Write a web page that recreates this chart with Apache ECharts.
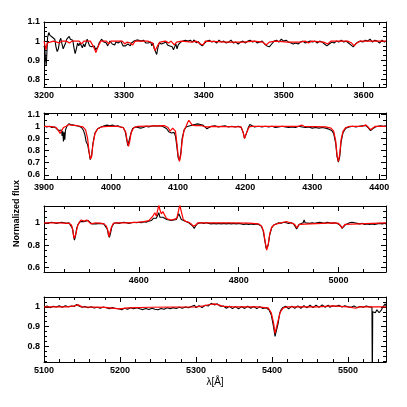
<!DOCTYPE html>
<html>
<head>
<meta charset="utf-8">
<script src="https://cdn.jsdelivr.net/npm/echarts@6/dist/echarts.min.js"></script>
<style>
html, body { margin: 0; padding: 0; background: #fff; }
#chart { width: 407px; height: 407px; }
</style>
</head>
<body>
<div id="chart"></div>
<script>
// observed spectrum (black) and model (red), one pair per panel, [lambda, flux]
const obs1 = [
  [3200,0.975],[3201,0.96],[3202,0.90],[3202.8,0.87],[3203.5,0.93],[3204.5,1.02],[3206,1.045],[3207.5,1.03],[3209,1.04],[3210.5,1.02],
  [3212,1.03],[3213.5,1.01],[3215,0.97],[3216.5,0.945],[3218,0.96],[3219.5,1.0],[3221,1.015],[3222.5,0.985],[3224,0.96],[3225.5,0.97],
  [3227,0.99],[3228.5,1.01],[3230,1.02],[3231.5,1.025],[3233,1.01],[3234.5,1.02],[3236,1.005],[3237.5,0.965],[3239,0.935],[3240.5,0.96],
  [3242,0.99],[3243.5,0.975],[3245,0.99],[3246.5,1.0],[3248,0.965],[3249.5,0.985],[3251,0.97],[3252.5,0.99],[3254,1.01],[3255.5,1.0],
  [3257,0.975],[3258.5,0.985],[3260,0.97],[3261.5,0.96],[3263,0.975],[3264.5,0.955],[3266,0.945],[3267.5,0.97],[3269,0.99],[3270.5,1.0],
  [3272,1.01],[3273.5,1.005],[3275,0.995],[3276.5,1.0],[3278,0.99],[3279.5,0.975],[3281,0.985],[3282.5,1.0],[3284,0.995],[3285.5,0.985],
  [3287,0.99],[3288.5,0.98],[3290,0.995],[3291.5,1.0],[3293,0.99],[3294.5,0.985],[3296,1.0],[3297.5,0.99],[3299,0.975],[3300.5,0.965],
  [3302,0.975],[3303.5,0.97],[3305,0.985],[3306.5,0.99],[3308,0.975],[3309.5,0.99],[3311,0.985],[3312.5,1.0],[3314,1.01],[3315.5,1.005],
  [3317,1.015],[3318.5,1.005],[3320,1.01],[3321.5,1.0],[3323,1.01],[3324.5,1.005],[3326,1.0],[3327.5,0.99],[3329,1.0],[3330.5,0.99],
  [3332,0.98],[3333.5,0.995],[3335,0.975],[3336.5,0.99],[3338,0.96],[3339.5,0.945],[3341,0.93],[3342.5,0.965],[3344,0.99],[3345.5,1.0],
  [3347,0.985],[3348.5,0.975],[3350,0.99],[3351.5,0.985],[3353,0.995],[3354.5,0.98],[3356,0.99],[3357.5,0.975],[3359,0.985],[3360.5,0.97],
  [3362,0.955],[3363.5,0.97],[3365,0.985],[3366.5,0.96],[3368,0.98],[3369.5,0.99],[3371,0.995],[3372.5,0.985],[3374,1.0],[3375.5,0.99],
  [3377,1.005],[3378.5,0.995],[3380,1.0],[3381.5,0.99],[3383,1.005],[3384.5,0.997],[3386,0.995],[3387.5,1.006],[3389,1.0],[3390.5,0.992],
  [3392,0.99],[3393.5,0.996],[3395,0.985],[3396.5,0.98],[3398,0.975],[3399.5,0.985],[3401,0.99],[3402.5,0.998],[3404,1.0],[3405.5,1.008],
  [3407,1.005],[3408.5,0.997],[3410,0.995],[3411.5,1.004],[3413,1.0],[3414.5,0.993],[3416,0.99],[3417.5,1.0],[3419,1.005],[3420.5,1.0],
  [3422,0.995],[3423.5,1.004],[3425,1.0],[3426.5,0.994],[3428,0.99],[3429.5,0.998],[3431,0.995],[3432.5,1.002],[3434,1.005],[3435.5,0.996],
  [3437,0.99],[3438.5,0.998],[3440,0.995],[3441.5,0.99],[3443,0.985],[3444.5,0.993],[3446,0.995],[3447.5,1.003],[3449,1.0],[3450.5,0.994],
  [3452,0.99],[3453.5,0.998],[3455,1.0],[3456.5,1.006],[3458,1.005],[3459.5,0.998],[3461,0.995],[3462.5,1.004],[3464,1.0],[3465.5,0.994],
  [3467,0.99],[3468.5,0.998],[3470,0.995],[3471.5,1.003],[3473,1.0],[3474.5,0.993],[3476,0.985],[3477.5,0.98],[3479,0.975],[3480.5,0.978],
  [3482,0.97],[3483.5,0.98],[3485,0.985],[3486.5,0.995],[3488,1.0],[3489.5,1.007],[3491,1.005],[3492.5,0.998],[3494,0.995],[3495.5,1.004],
  [3497,1.01],[3498.5,1.002],[3500,1.0],[3501.5,0.996],[3503,1.005],[3504.5,0.999],[3506,0.995],[3507.5,0.99],[3509,0.99],[3510.5,0.994],
  [3512,0.985],[3513.5,0.992],[3515,0.99],[3516.5,0.984],[3518,0.985],[3519.5,0.992],[3521,0.995],[3522.5,0.999],[3524,1.0],[3525.5,0.994],
  [3527,0.99],[3528.5,0.997],[3530,0.995],[3531.5,1.003],[3533,1.0],[3534.5,0.994],[3536,0.995],[3537.5,1.004],[3539,1.0],[3540.5,0.995],
  [3542,0.99],[3543.5,0.998],[3545,1.0],[3546.5,1.004],[3548,0.995],[3549.5,0.99],[3551,0.985],[3552.5,0.98],[3554,0.975],[3555.5,0.98],
  [3557,0.985],[3558.5,0.993],[3560,0.995],[3561.5,1.002],[3563,0.99],[3564.5,0.997],[3566,1.0],[3567.5,1.006],[3569,0.995],[3570.5,1.0],
  [3572,1.005],[3573.5,0.999],[3575,0.995],[3576.5,1.004],[3578,1.0],[3579.5,0.994],[3581,0.99],[3582.5,0.986],[3584,0.98],[3585.5,0.974],
  [3587,0.97],[3588.5,0.978],[3590,0.985],[3591.5,0.992],[3593,0.995],[3594.5,1.003],[3596,1.0],[3597.5,1.006],[3599,0.995],[3600.5,1.002],
  [3602,1.005],[3603.5,0.998],[3605,1.0],[3606.5,1.006],[3608,1.01],[3609.5,1.0],[3611,0.995],[3612.5,1.002],[3614,1.005],[3615.5,0.997],
  [3617,1.0],[3618.5,1.007],[3620,0.99],[3621.5,0.998],[3623,1.005],[3624.5,1.0],[3626,0.995],[3628,1.0]
];
const mod1 = [
  [3200,1.0],[3201,0.99],[3202.5,0.955],[3204,0.99],[3206,1.0],[3212,1.0],[3216,0.995],[3219,0.99],[3222,1.0],[3228,1.0],
  [3232,0.99],[3235,1.0],[3244,1.0],[3247,0.985],[3250,1.0],[3258,1.0],[3262,0.97],[3265,0.94],[3268,0.975],[3271,1.0],
  [3278,1.0],[3281,0.985],[3284,1.0],[3298,1.0],[3301,0.985],[3304,0.995],[3308,0.99],[3311,0.98],[3314,1.0],[3330,1.0],
  [3336,0.99],[3339,0.95],[3342,0.975],[3345,0.995],[3352,1.0],[3356,0.99],[3359,1.0],[3363,0.98],[3366,0.995],[3372,1.0],
  [3385,0.995],[3390,1.0],[3396,0.985],[3399,0.98],[3402,1.0],[3430,0.995],[3450,0.995],[3462,1.0],[3474,0.995],[3478,0.98],
  [3482,0.995],[3490,1.0],[3505,0.995],[3520,0.995],[3527,1.0],[3531,0.99],[3535,1.0],[3550,0.995],[3555,0.985],[3559,1.0],
  [3580,1.0],[3585,0.99],[3588,0.975],[3591,0.99],[3596,1.0],[3628,1.0]
];
const obs2 = [
  [3900,1.005],[3904,0.995],[3908,1.0],[3912,0.99],[3916,0.995],[3919,0.98],[3922,0.965],[3924,0.955],[3926,0.97],[3927,0.92],
  [3928,0.96],[3929,0.875],[3930,0.95],[3931,0.89],[3932,0.97],[3934,1.0],[3937,1.02],[3940,1.015],[3944,1.01],[3948,1.005],
  [3952,1.0],[3956,0.99],[3959,0.965],[3961,0.93],[3963,0.87],[3965,0.85],[3967,0.79],[3969,0.725],[3971,0.76],[3973,0.86],
  [3976,0.945],[3980,0.98],[3985,0.995],[3990,1.005],[3994,1.01],[3998,1.005],[4002,1.01],[4006,1.0],[4010,1.005],[4014,0.995],
  [4018,0.99],[4021,0.96],[4023,0.9],[4025,0.84],[4027,0.85],[4029,0.93],[4032,0.98],[4036,0.995],[4040,0.99],[4044,0.985],
  [4048,0.99],[4052,1.0],[4056,0.995],[4060,1.0],[4064,1.005],[4068,1.0],[4072,1.005],[4076,1.0],[4080,0.99],[4083,0.98],
  [4086,0.955],[4088,0.94],[4090,0.945],[4092,0.96],[4094,0.95],[4096,0.92],[4098,0.84],[4100,0.74],[4102,0.72],[4104,0.78],
  [4106,0.9],[4109,0.97],[4112,0.995],[4115,1.0],[4118,1.005],[4121,1.01],[4125,1.015],[4129,1.02],[4133,1.015],[4137,1.01],
  [4140,0.995],[4143,0.98],[4146,0.99],[4150,1.0],[4155,1.005],[4160,0.995],[4165,1.0],[4170,1.005],[4175,0.995],[4180,1.0],
  [4185,0.995],[4190,1.0],[4194,0.99],[4197,0.95],[4199,0.9],[4201,0.905],[4203,0.96],[4205,0.995],[4207,1.015],[4209,1.0],
  [4214,0.995],[4220,1.0],[4225,0.995],[4230,1.0],[4235,0.995],[4240,1.0],[4245,0.99],[4250,0.995],[4255,1.0],[4260,0.995],
  [4265,0.99],[4270,0.995],[4275,0.99],[4280,1.0],[4285,0.995],[4290,0.99],[4295,0.995],[4300,0.985],[4305,0.99],[4310,0.985],
  [4315,0.99],[4320,0.985],[4325,0.975],[4329,0.965],[4332,0.94],[4335,0.86],[4337,0.75],[4339,0.705],[4341,0.75],[4343,0.87],
  [4346,0.95],[4350,0.985],[4355,0.995],[4360,1.0],[4365,0.995],[4370,1.0],[4375,1.005],[4380,1.005],[4384,0.985],[4387,0.965],
  [4390,0.98],[4394,0.995],[4398,1.0],[4402,1.005],[4406,1.0],[4410,1.005]
];
const mod2 = [
  [3900,1.0],[3912,0.998],[3918,0.99],[3922,0.96],[3924,0.942],[3926,0.96],[3929,0.99],[3933,1.0],[3937,1.015],[3940,1.01],
  [3950,1.005],[3958,0.995],[3962,0.97],[3965,0.9],[3967,0.8],[3969,0.73],[3971,0.75],[3973,0.85],[3976,0.94],[3980,0.98],
  [3986,0.995],[3995,1.0],[4010,1.0],[4018,0.99],[4022,0.95],[4024,0.88],[4026,0.835],[4028,0.88],[4030,0.95],[4034,0.99],
  [4040,1.0],[4080,1.005],[4085,0.99],[4088,0.96],[4090,0.955],[4092,0.985],[4094,0.99],[4096,0.96],[4098,0.87],[4100,0.76],
  [4102,0.71],[4104,0.76],[4106,0.88],[4109,0.97],[4112,1.0],[4114,1.03],[4116,1.05],[4118,1.04],[4121,1.01],[4126,1.005],
  [4135,1.005],[4141,0.995],[4143,0.985],[4146,0.995],[4150,1.0],[4194,0.995],[4197,0.95],[4199,0.9],[4201,0.9],[4203,0.96],
  [4206,0.995],[4210,1.0],[4280,1.0],[4284,1.01],[4288,1.0],[4320,0.995],[4328,0.985],[4332,0.96],[4335,0.88],[4337,0.76],
  [4339,0.71],[4341,0.77],[4343,0.89],[4346,0.96],[4350,0.99],[4356,1.0],[4375,1.0],[4380,1.012],[4384,0.99],[4387,0.972],
  [4390,0.985],[4394,1.0],[4410,1.0]
];
const obs3 = [
  [4410,1.0],[4415,0.995],[4420,1.0],[4425,1.005],[4430,1.0],[4435,0.995],[4440,1.0],[4445,1.005],[4450,1.0],[4455,0.995],
  [4460,1.0],[4464,0.99],[4467,0.95],[4469,0.89],[4471,0.845],[4473,0.88],[4475,0.94],[4478,0.985],[4482,1.01],[4486,1.02],
  [4490,1.01],[4494,1.015],[4498,1.02],[4502,1.005],[4506,0.99],[4510,0.985],[4514,0.99],[4518,1.0],[4522,0.995],[4526,1.0],
  [4530,0.99],[4534,0.975],[4537,0.94],[4539,0.89],[4541,0.87],[4543,0.9],[4546,0.965],[4550,0.995],[4555,1.0],[4560,0.995],
  [4565,1.0],[4570,1.005],[4575,1.0],[4580,0.995],[4585,1.0],[4590,1.005],[4595,1.0],[4600,1.005],[4605,1.0],[4610,1.01],
  [4615,1.005],[4620,1.015],[4625,1.02],[4629,1.04],[4632,1.05],[4635,1.04],[4638,1.07],[4640,1.09],[4642,1.05],[4645,1.04],
  [4648,1.05],[4652,1.035],[4656,1.03],[4660,1.025],[4665,1.02],[4670,1.025],[4675,1.03],[4678,1.04],[4680,1.08],[4682,1.06],
  [4685,1.03],[4688,1.02],[4692,1.015],[4696,1.01],[4700,1.0],[4704,0.99],[4708,0.97],[4711,0.95],[4714,0.975],[4718,0.995],
  [4725,1.0],[4730,0.995],[4735,1.0],[4740,0.995],[4745,0.99],[4750,0.995],[4755,0.99],[4760,0.995],[4765,0.99],[4770,0.995],
  [4775,0.99],[4780,0.995],[4785,0.99],[4790,0.995],[4795,0.99],[4800,0.995],[4805,0.99],[4810,0.985],[4815,0.99],[4820,0.985],
  [4825,0.99],[4830,0.985],[4835,0.99],[4840,0.985],[4845,0.97],[4849,0.93],[4852,0.85],[4855,0.77],[4857,0.76],[4859,0.8],
  [4862,0.89],[4866,0.955],[4870,0.98],[4875,0.99],[4880,1.0],[4885,0.995],[4890,1.005],[4895,1.0],[4900,0.995],[4905,1.0],
  [4910,0.99],[4913,0.975],[4916,0.945],[4918,0.955],[4921,0.985],[4925,0.995],[4929,1.0],[4931,1.025],[4933,1.0],[4937,1.005],
  [4942,0.995],[4947,1.0],[4952,0.995],[4957,1.0],[4962,1.005],[4967,1.0],[4972,0.995],[4977,1.005],[4982,1.0],[4987,0.995],
  [4992,1.0],[4997,0.995],[5001,0.99],[5004,0.975],[5007,0.95],[5010,0.95],[5013,0.98],[5017,0.995],[5022,1.0],[5027,1.005],
  [5032,1.0],[5037,0.995],[5042,0.99],[5047,0.995],[5052,0.985],[5057,0.99],[5062,0.985],[5067,0.99],[5072,0.985],[5077,0.99],
  [5082,0.995],[5087,0.99],[5092,0.995],[5095,0.99]
];
const mod3 = [
  [4410,1.0],[4440,1.0],[4460,0.995],[4465,0.98],[4468,0.93],[4470,0.86],[4472,0.85],[4474,0.9],[4477,0.97],[4480,0.995],
  [4484,1.025],[4490,1.015],[4496,1.025],[4500,1.015],[4504,0.99],[4508,0.995],[4514,1.0],[4525,0.995],[4530,0.99],[4535,0.97],
  [4538,0.93],[4540,0.875],[4542,0.89],[4545,0.96],[4549,0.995],[4555,1.0],[4580,1.0],[4600,1.005],[4610,1.01],[4620,1.02],
  [4624,1.04],[4628,1.06],[4632,1.09],[4635,1.06],[4638,1.12],[4640,1.16],[4642,1.12],[4645,1.08],[4648,1.1],[4651,1.085],
  [4655,1.04],[4660,1.03],[4665,1.025],[4670,1.03],[4676,1.04],[4679,1.1],[4682,1.16],[4685,1.1],[4689,1.03],[4695,1.01],
  [4700,1.005],[4705,0.99],[4709,0.97],[4711,0.96],[4714,0.98],[4718,1.0],[4780,1.0],[4820,0.997],[4840,0.99],[4846,0.97],
  [4850,0.92],[4853,0.83],[4856,0.755],[4859,0.8],[4862,0.9],[4866,0.96],[4872,0.985],[4880,0.995],[4890,1.005],[4895,1.01],
  [4900,1.005],[4908,0.995],[4913,0.98],[4916,0.955],[4918,0.96],[4921,0.985],[4925,1.0],[4990,1.0],[5000,0.995],[5004,0.98],
  [5007,0.955],[5010,0.955],[5013,0.985],[5017,1.0],[5095,1.0]
];
const obs4 = [
  [5100,0.998],[5102,1.005],[5104,1.004],[5106,0.995],[5108,0.996],[5110,1.006],[5112,1.003],[5114,0.996],[5116,0.999],[5118,1.007],
  [5120,1.005],[5122,0.997],[5124,0.998],[5126,1.008],[5128,1.006],[5130,0.998],[5132,1.0],[5134,1.007],[5136,1.004],[5138,0.997],
  [5140,1.002],[5142,1.008],[5143,1.012],[5145,1.004],[5146,1.004],[5148,0.996],[5150,0.998],[5152,1.005],[5154,1.002],[5156,0.993],
  [5158,0.995],[5160,1.003],[5162,1.0],[5164,0.992],[5166,0.994],[5168,1.002],[5170,0.998],[5172,0.99],[5174,0.993],[5176,1.001],
  [5178,0.999],[5180,0.99],[5182,0.995],[5184,1.0],[5186,0.99],[5188,0.985],[5190,0.996],[5192,0.998],[5194,0.992],[5196,0.986],
  [5198,0.99],[5200,0.994],[5202,0.985],[5204,0.982],[5206,0.993],[5208,0.995],[5210,0.988],[5212,0.983],[5214,0.995],[5216,0.996],
  [5218,0.99],[5220,0.984],[5222,0.996],[5224,0.995],[5226,0.99],[5228,0.982],[5230,0.986],[5232,0.995],[5234,0.992],[5236,0.983],
  [5238,0.987],[5240,0.996],[5242,0.993],[5244,0.984],[5246,0.988],[5248,0.994],[5250,0.985],[5252,0.983],[5254,0.992],[5256,0.995],
  [5258,0.988],[5260,0.985],[5262,0.995],[5264,0.997],[5266,0.99],[5268,0.986],[5270,0.996],[5272,0.999],[5274,0.992],[5276,0.989],
  [5278,0.998],[5280,1.001],[5282,0.993],[5284,0.99],[5286,0.999],[5288,1.003],[5290,0.995],[5292,0.992],[5294,1.002],[5296,1.005],
  [5298,1.008],[5300,0.996],[5302,0.998],[5304,1.006],[5306,1.003],[5308,0.996],[5310,1.0],[5312,1.008],[5314,1.006],[5316,1.004],
  [5318,1.01],[5320,1.018],[5322,1.016],[5324,1.01],[5326,1.012],[5328,1.015],[5330,1.008],[5332,1.003],[5334,1.0],[5336,1.004],
  [5338,0.996],[5340,0.993],[5342,1.0],[5344,1.003],[5346,0.994],[5348,0.991],[5350,0.998],[5352,1.001],[5354,0.993],[5356,0.99],
  [5358,0.999],[5360,1.002],[5362,0.995],[5364,0.992],[5366,1.0],[5368,1.003],[5370,0.996],[5372,0.993],[5374,0.999],[5376,1.002],
  [5378,0.994],[5380,0.991],[5382,0.998],[5384,1.001],[5386,0.995],[5388,0.992],[5390,0.998],[5392,0.995],[5394,0.992],[5396,0.985],
  [5397,0.98],[5399,0.96],[5400,0.94],[5402,0.9],[5404,0.85],[5406,0.86],[5408,0.915],[5410,0.965],[5412,0.985],[5413,0.99],
  [5414,0.996],[5416,0.998],[5418,1.003],[5420,0.993],[5422,0.99],[5424,0.999],[5426,1.004],[5428,0.994],[5430,0.992],[5432,1.0],
  [5434,1.005],[5436,0.995],[5438,0.993],[5440,1.002],[5442,1.006],[5444,0.996],[5446,0.995],[5448,1.004],[5450,1.008],[5452,0.998],
  [5454,0.996],[5456,1.005],[5458,1.009],[5460,0.999],[5462,0.997],[5464,1.006],[5466,1.01],[5468,1.0],[5470,0.998],[5472,1.004],
  [5474,1.009],[5476,0.998],[5478,0.997],[5480,1.006],[5482,1.011],[5484,1.002],[5486,0.999],[5488,1.008],[5490,1.012],[5492,0.999],
  [5494,0.998],[5496,1.005],[5498,1.009],[5500,1.0],[5502,0.995],[5504,0.998],[5506,1.007],[5508,1.004],[5510,0.996],[5512,0.996],
  [5514,1.006],[5516,1.002],[5518,0.995],[5520,0.998],[5522,1.007],[5524,1.004],[5526,0.996],[5528,1.0],[5530,1.005],[5531.5,0.998],
  [5532,0.6],[5532.5,0.975],[5534,0.965],[5536,0.97],[5538,0.985],[5539,0.98],[5541,0.97],[5542,0.975],[5544,0.985],[5545,0.99],
  [5546,1.0],[5548,1.01],[5549,1.015],[5550,1.005]
];
const mod4 = [
  [5100,1.0],[5130,1.0],[5140,1.005],[5145,1.01],[5150,1.0],[5180,0.997],[5200,0.99],[5210,0.995],[5240,0.998],[5300,1.0],
  [5310,1.005],[5318,1.012],[5324,1.015],[5330,1.01],[5336,1.002],[5350,1.0],[5380,1.0],[5395,0.995],[5399,0.97],[5402,0.92],
  [5404,0.865],[5406,0.875],[5408,0.93],[5411,0.975],[5415,0.995],[5420,1.0],[5460,1.0],[5480,1.005],[5500,1.0],[5510,0.993],
  [5515,1.0],[5550,1.0]
];

// axes
const xRange = [[3200, 3628], [3900, 4410], [4410, 5095], [5100, 5550]];
const yRange = [[0.76, 1.1], [0.565, 1.11], [0.56, 1.15], [0.72, 1.05]];
const xLabels = [
  [3200, 3300, 3400, 3500, 3600],
  [3900, 4000, 4100, 4200, 4300, 4400],
  [4600, 4800, 5000],
  [5100, 5200, 5300, 5400, 5500]
];
const yLabels = [
  [0.8, 0.9, 1, 1.1],
  [0.6, 0.7, 0.8, 0.9, 1, 1.1],
  [0.6, 0.8, 1],
  [0.8, 0.9, 1]
];
const xMinorStep = [20, 20, 50, 20];
const yMinorStep = [0.025, 0.05, 0.05, 0.025];
const gridTop = [22, 113, 206, 297];
const gridHeight = [65, 66, 66, 65];

const observed = [obs1, obs2, obs3, obs4];
const model = [mod1, mod2, mod3, mod4];

const FONT = 'Liberation Sans';

function minors(range, step, majors) {
  const out = [];
  let k = Math.ceil(range[0] / step - 1e-9);
  for (; k * step <= range[1] + 1e-9; k++) {
    const v = Math.round(k * step * 1000) / 1000;
    if (!majors.some(m => Math.abs(m - v) < 1e-6)) out.push(v);
  }
  return out;
}

const chart = echarts.init(document.getElementById('chart'), null, { renderer: 'canvas' });

const grid = [], xAxis = [], yAxis = [], series = [];
const labelStyle = { fontFamily: FONT, fontSize: 9, fontWeight: 'bold', color: '#000', formatter: v => String(v) };

for (let i = 0; i < 4; i++) {
  grid.push({ left: 44, right: 21, top: gridTop[i], height: gridHeight[i], containLabel: false });

  const xMin = minors(xRange[i], xMinorStep[i], xLabels[i]);
  const yMin = minors(yRange[i], yMinorStep[i], yLabels[i]);

  const xBase = { type: 'value', gridIndex: i, min: xRange[i][0], max: xRange[i][1], splitLine: { show: false } };
  const yBase = { type: 'value', gridIndex: i, min: yRange[i][0], max: yRange[i][1], splitLine: { show: false } };
  const line = { show: true, onZero: false, lineStyle: { color: '#000', width: 1 } };
  const noLine = { show: false };

  // bottom: frame, major ticks, labels
  xAxis.push(Object.assign({}, xBase, {
    position: 'bottom', axisLine: line,
    axisTick: { show: true, inside: true, length: 5, customValues: xLabels[i], lineStyle: { color: '#000' } },
    axisLabel: Object.assign({ show: true, customValues: xLabels[i], margin: 4 }, labelStyle),
    name: i === 3 ? 'λ[Å]' : '', nameLocation: 'middle', nameGap: 15,
    nameTextStyle: { fontFamily: FONT, fontSize: 10, color: '#000' }
  }));
  xAxis.push(Object.assign({}, xBase, { position: 'bottom', axisLine: noLine,
    axisTick: { show: true, inside: true, length: 3, customValues: xMin, lineStyle: { color: '#000' } }, axisLabel: { show: false } }));
  xAxis.push(Object.assign({}, xBase, { position: 'top', axisLine: line,
    axisTick: { show: true, inside: true, length: 5, customValues: xLabels[i], lineStyle: { color: '#000' } }, axisLabel: { show: false } }));
  xAxis.push(Object.assign({}, xBase, { position: 'top', axisLine: noLine,
    axisTick: { show: true, inside: true, length: 3, customValues: xMin, lineStyle: { color: '#000' } }, axisLabel: { show: false } }));

  yAxis.push(Object.assign({}, yBase, {
    position: 'left', axisLine: line,
    axisTick: { show: true, inside: true, length: 5, customValues: yLabels[i], lineStyle: { color: '#000' } },
    axisLabel: Object.assign({ show: true, customValues: yLabels[i], margin: 4 }, labelStyle)
  }));
  yAxis.push(Object.assign({}, yBase, { position: 'left', axisLine: noLine,
    axisTick: { show: true, inside: true, length: 3, customValues: yMin, lineStyle: { color: '#000' } }, axisLabel: { show: false } }));
  yAxis.push(Object.assign({}, yBase, { position: 'right', axisLine: line,
    axisTick: { show: true, inside: true, length: 5, customValues: yLabels[i], lineStyle: { color: '#000' } }, axisLabel: { show: false } }));
  yAxis.push(Object.assign({}, yBase, { position: 'right', axisLine: noLine,
    axisTick: { show: true, inside: true, length: 3, customValues: yMin, lineStyle: { color: '#000' } }, axisLabel: { show: false } }));

  series.push({
    type: 'line', xAxisIndex: i * 4, yAxisIndex: i * 4, data: observed[i],
    showSymbol: false, symbol: 'none', clip: true, silent: true,
    lineStyle: { color: '#000', width: 1.1 }, z: 2
  });
  series.push({
    type: 'line', xAxisIndex: i * 4, yAxisIndex: i * 4, data: model[i],
    showSymbol: false, symbol: 'none', clip: true, silent: true,
    lineStyle: { color: '#ff0000', width: 1.2 }, z: 3
  });
}

const option = {
  animation: false,
  backgroundColor: '#fff',
  grid: grid,
  xAxis: xAxis,
  yAxis: yAxis,
  series: series,
  graphic: [{
    type: 'text', left: 12, top: 180, rotation: Math.PI / 2,
    style: { text: 'Normalized flux', font: 'bold 9px "Liberation Sans"', fill: '#000' }
  }]
};

chart.setOption(option);
</script>
</body>
</html>
